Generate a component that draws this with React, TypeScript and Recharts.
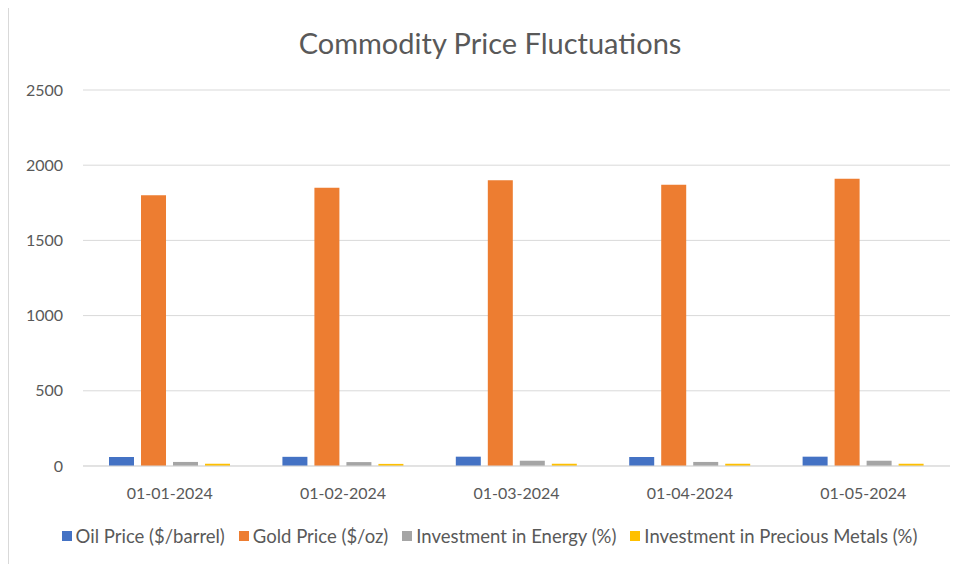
import { Bar, BarChart, CartesianGrid, Legend, XAxis, YAxis } from "recharts";

const DATES = ["01-01-2024", "01-02-2024", "01-03-2024", "01-04-2024", "01-05-2024"];
const OIL_PRICE = [60, 61, 62, 60, 62];
const GOLD_PRICE = [1800, 1850, 1900, 1870, 1910];
const ENERGY_INVESTMENT = [27, 26, 35, 27, 35];
const METALS_INVESTMENT = [15, 14, 15, 15, 15];
const Y_TICKS = [0, 500, 1000, 1500, 2000, 2500];

const SERIES = [
  { key: "oil", name: "Oil Price ($/barrel)", color: "#4472C4" },
  { key: "gold", name: "Gold Price ($/oz)", color: "#ED7D31" },
  { key: "energy", name: "Investment in Energy (%)", color: "#A5A5A5" },
  { key: "metals", name: "Investment in Precious Metals (%)", color: "#FFC000" },
] as const;

const data = DATES.map((date, i) => ({
  date,
  oil: OIL_PRICE[i],
  gold: GOLD_PRICE[i],
  energy: ENERGY_INVESTMENT[i],
  metals: METALS_INVESTMENT[i],
}));

const FONT = "Lato, 'Open Sans', sans-serif";
const TEXT = "#595959";

function LegendContent() {
  return (
    <div
      style={{
        display: "flex",
        justifyContent: "center",
        gap: 14,
        marginTop: 9,
        marginLeft: 20,
        fontFamily: FONT,
        fontSize: 18.5,
        color: TEXT,
      }}
    >
      {SERIES.map((s) => (
        <span key={s.key} style={{ display: "inline-flex", alignItems: "center", gap: 4 }}>
          <span style={{ width: 10, height: 10, background: s.color, display: "inline-block" }} />
          {s.name}
        </span>
      ))}
    </div>
  );
}

export default function App() {
  return (
    <div
      style={{
        position: "relative",
        width: 960,
        height: 570,
        marginTop: -1,
        borderLeft: "1px solid #d9d9d9",
        borderTop: "1px solid #d9d9d9",
        boxSizing: "border-box",
      }}
    >
      <div
        style={{
          position: "absolute",
          top: 17,
          left: 0,
          width: 962,
          textAlign: "center",
          fontFamily: FONT,
          fontSize: 29,
          color: TEXT,
        }}
      >
        Commodity Price Fluctuations
      </div>
      <BarChart
        width={951}
        height={556}
        data={data}
        margin={{ top: 82, right: 10, bottom: 0, left: 0 }}
        barCategoryGap="15%"
        barGap={7}
      >
        <CartesianGrid vertical={false} stroke="#d9d9d9" />
        <XAxis
          dataKey="date"
          axisLine={{ stroke: "#d9d9d9" }}
          tickLine={false}
          tick={{ fill: TEXT, fontSize: 16, fontFamily: FONT }}
          tickMargin={16}
          height={50}
        />
        <YAxis
          domain={[0, 2500]}
          ticks={Y_TICKS}
          axisLine={false}
          tickLine={false}
          tickSize={0}
          tickMargin={20}
          width={74}
          tick={{ fill: TEXT, fontSize: 16, fontFamily: FONT }}
        />
        <Legend verticalAlign="bottom" height={48} content={<LegendContent />} />
        {SERIES.map((s) => (
          <Bar key={s.key} dataKey={s.key} name={s.name} fill={s.color} isAnimationActive={false} />
        ))}
      </BarChart>
    </div>
  );
}
